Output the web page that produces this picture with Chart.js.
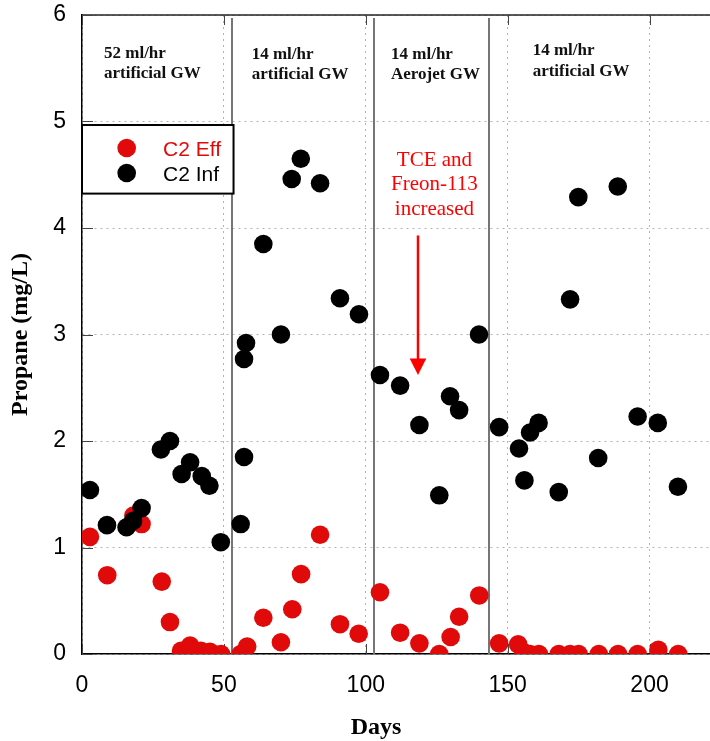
<!DOCTYPE html>
<html>
<head>
<meta charset="utf-8">
<title>Propane C2</title>
<script src="https://cdn.jsdelivr.net/npm/chart.js@4.4.1/dist/chart.umd.min.js"></script>
<style>
  html, body { margin: 0; padding: 0; background: #fff; overflow: hidden; }
  #wrap { width: 710px; height: 741px; position: relative; }
  canvas { display: block; }
</style>
</head>
<body>
<div id="wrap"><canvas id="propaneChart"></canvas></div>
<script>
// C2 effluent / influent propane, mg/L vs day
const effDays = [2.8, 8.9, 18.1, 21.0, 28.1, 31.0, 34.9, 38.1, 41.9, 45.1,
  49.0, 55.9, 58.2, 63.9, 70.1, 74.1, 77.2, 83.9, 90.9, 97.5,
  105.0, 112.1, 118.9, 125.9, 129.9, 132.9, 140.0, 147.0, 153.7, 155.5,
  157.9, 161.0, 168.0, 172.0, 175.0, 182.1, 188.9, 195.8, 203.1, 210.1];
const effValues = [1.10, 0.74, 1.30, 1.22, 0.68, 0.30, 0.03, 0.08, 0.03, 0.02,
  0.0, 0.0, 0.07, 0.34, 0.11, 0.42, 0.75, 1.12, 0.28, 0.19,
  0.58, 0.20, 0.10, 0.0, 0.16, 0.35, 0.55, 0.10, 0.09, 0.02,
  0.0, 0.0, 0.0, 0.0, 0.0, 0.0, 0.0, 0.0, 0.04, 0.0];

const infDays = [2.8, 8.8, 15.7, 18.0, 21.0, 27.8, 31.0, 35.1, 38.1, 42.2,
  44.9, 48.9, 55.9, 57.1, 57.1, 57.8, 63.9, 70.1, 73.9, 77.1,
  83.9, 90.9, 97.6, 105.0, 112.1, 118.9, 125.9, 129.7, 132.9, 139.9,
  147.0, 154.0, 155.9, 157.9, 160.9, 168.0, 172.0, 174.9, 181.9, 188.8,
  195.8, 202.9, 210.0];
const infValues = [1.54, 1.21, 1.19, 1.25, 1.37, 1.92, 2.00, 1.69, 1.80, 1.67,
  1.58, 1.05, 1.22, 1.85, 2.77, 2.92, 3.85, 3.00, 4.46, 4.65,
  4.42, 3.34, 3.19, 2.62, 2.52, 2.15, 1.49, 2.42, 2.29, 3.00,
  2.13, 1.93, 1.63, 2.08, 2.17, 1.52, 3.33, 4.29, 1.84, 4.39,
  2.23, 2.17, 1.57];

const seriesNames = ["C2 Eff", "C2 Inf"];
const xTicks = [0, 50, 100, 150, 200];
const yTicks = [0, 1, 2, 3, 4, 5, 6];

// days where the feed changed, and what it was in each period
const phaseBreaks = [53, 103, 143.5];
const phaseTexts = [
  ["52 ml/hr", "artificial GW"],
  ["14 ml/hr", "artificial GW"],
  ["14 ml/hr", "Aerojet GW"],
  ["14 ml/hr", "artificial GW"]
];
const noteLines = ["TCE and", "Freon-113", "increased"];
const noteDay = 118.4;

const RED = "#e00a0a";
const serif = '"Liberation Serif", "Times New Roman", serif';
const sans = '"Liberation Sans", Arial, sans-serif';

function toPoints(xs, ys) {
  return xs.map((d, i) => ({ x: d, y: ys[i] }));
}

function noLabelPadding(scale) {
  scale.paddingTop = 0;
  scale.paddingBottom = 0;
  scale.paddingLeft = 0;
  scale.paddingRight = 0;
}

const overlay = {
  id: "overlay",
  beforeDatasetsDraw(chart) {
    const { ctx, chartArea: a, scales: { x, y } } = chart;
    ctx.save();

    // period separators
    ctx.strokeStyle = "#767676";
    ctx.lineWidth = 2;
    phaseBreaks.forEach(d => {
      const px = Math.round(x.getPixelForValue(d));
      ctx.beginPath();
      ctx.moveTo(px, a.top + 3);
      ctx.lineTo(px, a.bottom);
      ctx.stroke();
    });

    // frame top + inward ticks
    ctx.strokeStyle = "#222";
    ctx.lineWidth = 1.5;
    ctx.beginPath();
    ctx.moveTo(a.left, a.top);
    ctx.lineTo(a.right, a.top);
    ctx.stroke();
    ctx.lineWidth = 1;
    ctx.strokeStyle = "#444";
    xTicks.forEach(t => {
      const px = Math.round(x.getPixelForValue(t)) + 0.5;
      ctx.beginPath();
      ctx.moveTo(px, a.bottom); ctx.lineTo(px, a.bottom - 10);
      ctx.moveTo(px, a.top); ctx.lineTo(px, a.top + 10);
      ctx.stroke();
    });
    yTicks.forEach(t => {
      const py = Math.round(y.getPixelForValue(t)) + 0.5;
      ctx.beginPath();
      ctx.moveTo(a.left, py); ctx.lineTo(a.left + 11, py);
      ctx.stroke();
    });
    ctx.restore();
  },
  afterDatasetsDraw(chart) {
    const { ctx, chartArea: a, scales: { x, y } } = chart;
    ctx.save();

    // period labels
    const labelDays = [7.75, 59.8, 108.9, 158.8];
    const labelTops = [5.60, 5.59, 5.59, 5.62];
    ctx.font = "bold 17px " + serif;
    ctx.fillStyle = "#111";
    ctx.textAlign = "left";
    ctx.textBaseline = "alphabetic";
    phaseTexts.forEach((lines, i) => {
      const px = x.getPixelForValue(labelDays[i]);
      const py = y.getPixelForValue(labelTops[i]);
      lines.forEach((s, j) => ctx.fillText(s, px, py + j * 20.5));
    });

    // red note and arrow
    ctx.fillStyle = "#ff0000";
    ctx.font = "21px " + serif;
    ctx.textAlign = "center";
    const nx = x.getPixelForValue(124.2);
    const ny = y.getPixelForValue(4.58);
    noteLines.forEach((s, j) => ctx.fillText(s, nx, ny + j * 24.2));

    const ax = x.getPixelForValue(noteDay);
    const aTop = y.getPixelForValue(3.93);
    const aTip = y.getPixelForValue(2.62);
    ctx.strokeStyle = "#ff0000";
    ctx.lineWidth = 2.5;
    ctx.beginPath();
    ctx.moveTo(ax, aTop);
    ctx.lineTo(ax, aTip - 12);
    ctx.stroke();
    ctx.beginPath();
    ctx.moveTo(ax - 8.3, aTip - 16.5);
    ctx.lineTo(ax + 8.3, aTip - 16.5);
    ctx.lineTo(ax, aTip);
    ctx.closePath();
    ctx.fill();

    // legend box
    const bx = a.left;
    const by = y.getPixelForValue(4.967);
    const bw = x.getPixelForValue(53.4) - bx;
    const bh = y.getPixelForValue(4.323) - by;
    ctx.fillStyle = "#fff";
    ctx.fillRect(bx, by, bw, bh);
    ctx.strokeStyle = "#000";
    ctx.lineWidth = 2;
    ctx.strokeRect(bx, by, bw, bh);
    const colors = [RED, "#000"];
    ctx.font = "21px " + sans;
    ctx.textAlign = "left";
    seriesNames.forEach((name, i) => {
      const cy = by + 23 + i * 25;
      ctx.fillStyle = colors[i];
      ctx.beginPath();
      ctx.arc(bx + 44.7, cy, 9.3, 0, Math.PI * 2);
      ctx.fill();
      ctx.fillText(name, bx + 81, cy + 8);
    });

    // x axis title
    ctx.fillStyle = "#000";
    ctx.font = "bold 24px " + serif;
    ctx.textAlign = "center";
    ctx.fillText("Days", x.getPixelForValue(103.6), a.bottom + 80);
    ctx.restore();
  }
};

const ctx = document.getElementById("propaneChart").getContext("2d");
const chart = new Chart(ctx, {
  type: "scatter",
  data: {
    datasets: [
      {
        label: seriesNames[0],
        data: toPoints(effDays, effValues),
        backgroundColor: RED,
        borderWidth: 0,
        pointRadius: 9.3,
        pointHoverRadius: 9.3,
        order: 1
      },
      {
        label: seriesNames[1],
        data: toPoints(infDays, infValues),
        backgroundColor: "#000",
        borderWidth: 0,
        pointRadius: 9.3,
        pointHoverRadius: 9.3,
        order: 0
      }
    ]
  },
  options: {
    responsive: true,
    maintainAspectRatio: false,
    animation: false,
    layout: {
      autoPadding: false,
      padding: { top: 15, left: 0, right: 0, bottom: 0 }
    },
    plugins: {
      legend: { display: false },
      tooltip: { enabled: false }
    },
    scales: {
      x: {
        type: "linear",
        min: 0,
        max: 221.3,
        afterBuildTicks: scale => {
          scale.ticks = xTicks.map(v => ({ value: v }));
        },
        afterFit: scale => {
          scale.height = 87;
          noLabelPadding(scale);
        },
        ticks: {
          padding: 18,
          color: "#000",
          font: { family: sans, size: 23 }
        },
        grid: { color: "#b4b4b4", lineWidth: 1, drawTicks: false },
        border: { color: "#000", width: 1.5, dash: [2, 4] }
      },
      y: {
        min: 0,
        max: 6,
        afterBuildTicks: scale => {
          scale.ticks = yTicks.map(v => ({ value: v }));
        },
        afterFit: scale => {
          scale.width = 82;
          noLabelPadding(scale);
        },
        ticks: {
          padding: 16,
          color: "#000",
          font: { family: sans, size: 23 }
        },
        grid: { color: "#b4b4b4", lineWidth: 1, drawTicks: false },
        border: { color: "#000", width: 1.5, dash: [2, 4] },
        title: {
          display: true,
          text: "Propane (mg/L)",
          color: "#000",
          padding: { top: 6, bottom: 0 },
          font: { family: serif, size: 24, weight: "bold" }
        }
      }
    }
  },
  plugins: [overlay]
});
</script>
</body>
</html>
